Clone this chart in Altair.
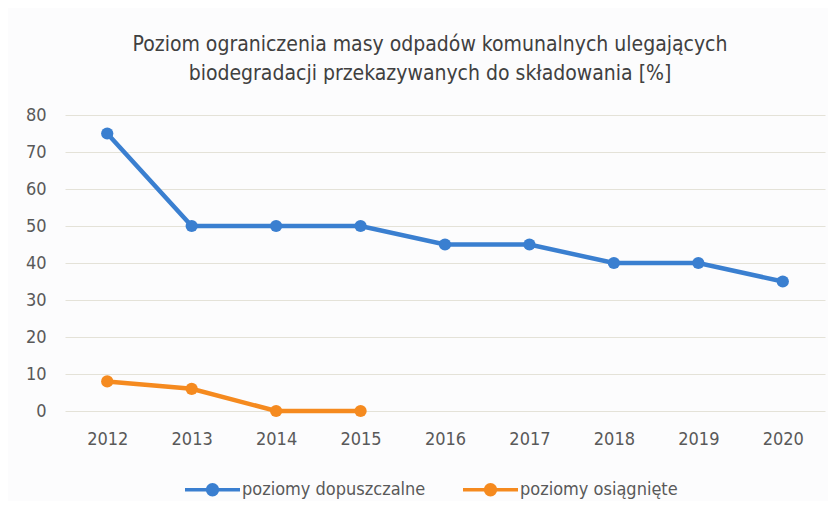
import altair as alt
import pandas as pd

years = ["2012", "2013", "2014", "2015", "2016", "2017", "2018", "2019", "2020"]
dopuszczalne = [75, 50, 50, 50, 45, 45, 40, 40, 35]
osiagniete_years = ["2012", "2013", "2014", "2015"]
osiagniete = [8, 6, 0, 0]

s1 = "poziomy dopuszczalne"
s2 = "poziomy osiągnięte"

rows = [{"rok": y, "v": v, "seria": s1} for y, v in zip(years, dopuszczalne)]
rows += [{"rok": y, "v": v, "seria": s2} for y, v in zip(osiagniete_years, osiagniete)]
df = pd.DataFrame(rows)

FONT = "Liberation Sans Narrow, DejaVu Sans Condensed, sans-serif"
TXT = "#595959"

color = alt.Color(
    "seria:N",
    scale=alt.Scale(domain=[s1, s2], range=["#3a7fd0", "#f58a1f"]),
    legend=alt.Legend(
        title=None,
        orient="none",
        legendX=118,
        legendY=345,
        direction="horizontal",
        symbolType="M-1,0H1M-0.18,0A0.18,0.18 0 1,1 0.18,0A0.18,0.18 0 1,1 -0.18,0Z",
        symbolSize=3025,
        symbolStrokeWidth=3.5,
        labelFont=FONT,
        labelFontSize=18,
        labelColor=TXT,
        labelLimit=0,
        columnPadding=30,
        labelOffset=0,
    ),
)

x = alt.X(
    "rok:O",
    sort=years,
    scale=alt.Scale(domain=years, type="point", padding=0.5),
    axis=alt.Axis(title=None, labelAngle=0, domain=False, ticks=False, grid=False,
                  labelPadding=19, labelFont=FONT, labelFontSize=18, labelColor=TXT),
)
y = alt.Y(
    "v:Q",
    scale=alt.Scale(domain=[0, 80]),
    axis=alt.Axis(title=None, values=list(range(0, 90, 10)), domain=False, ticks=False,
                  gridColor="#e4e2d8", gridWidth=1, labelPadding=19,
                  labelFont=FONT, labelFontSize=18, labelColor=TXT),
)

base = alt.Chart(df).encode(x=x, y=y, color=color, detail="seria:N")
line = base.mark_line(strokeWidth=4.5)
pts = base.mark_circle(size=150, opacity=1)

chart = alt.layer(line, pts).properties(
    width=760,
    height=296,
    autosize=alt.AutoSizeParams(type="none"),
    padding={"left": 57, "top": 107, "right": 3, "bottom": 90},
    background="#fcfcfd",
    title=alt.Title(
        ["Poziom ograniczenia masy odpadów komunalnych ulegających",
         "biodegradacji przekazywanych do składowania [%]"],
        font=FONT, fontSize=21, fontWeight="normal", color="#404040",
        anchor="middle", dx=-15, offset=22, lineHeight=29,
    ),
).configure_view(stroke=None)

chart.save("out.html", embed_options={"renderer": "svg", "actions": False})
